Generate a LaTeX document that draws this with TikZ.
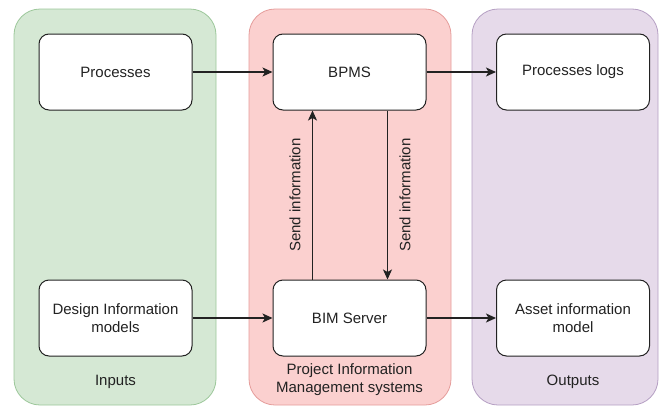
\documentclass[tikz,border=0pt]{standalone}
\usepackage{fontspec}
\setmainfont{Liberation Sans}
\usetikzlibrary{arrows.meta}

\definecolor{inFill}{HTML}{D5E8D4}
\definecolor{inLine}{HTML}{9CC79A}
\definecolor{pimFill}{HTML}{FBD0CF}
\definecolor{pimLine}{HTML}{E59C9A}
\definecolor{outFill}{HTML}{E6DAEA}
\definecolor{outLine}{HTML}{B59FC3}
\definecolor{ink}{HTML}{222222}

\tikzset{
  x=1pt, y=-1pt,
  lane/.style={rounded corners=26pt, line width=0.8pt},
  proc/.style={draw=ink, fill=white, rounded corners=10pt, line width=1pt,
    minimum width=153pt, minimum height=76pt, align=center, inner sep=0pt,
    font=\fontsize{15}{18}\selectfont, text=ink},
  lanetitle/.style={align=center, font=\fontsize{15}{18}\selectfont, text=ink},
  flow/.style={draw=ink, line width=1.1pt, -{Stealth[length=10pt,width=9pt,inset=2.5pt]}},
  vlabel/.style={rotate=90, font=\fontsize{15}{18}\selectfont, text=ink}
}

\begin{document}
\begin{tikzpicture}
\useasboundingbox (0,0) rectangle (664,407);

% swimlanes
\draw[lane, fill=inFill, draw=inLine] (14,9) rectangle (216,405);
\draw[lane, fill=pimFill, draw=pimLine] (249,9) rectangle (451,405);
\draw[lane, fill=outFill, draw=outLine] (472,9) rectangle (658,405);

% lane captions
\node[lanetitle] (inputs) at (115.5,382) {Inputs};
\node[lanetitle] (pims) at (349.5,380) {Project Information\\Management systems};
\node[lanetitle] (outputs) at (573,382) {Outputs};

% process boxes
\node[proc] (processes) at (115.5,72) {Processes};
\node[proc] (bpms) at (349.5,72) {BPMS};
\node[proc] (logs) at (573,72) {Processes logs};
\node[proc] (design) at (115.5,318) {Design Information\\models};
\node[proc] (bim) at (349.5,318) {BIM Server};
\node[proc] (asset) at (573,318) {Asset information\\model};

% horizontal flows
\draw[flow] (processes) -- (bpms);
\draw[flow] (bpms) -- (logs);
\draw[flow] (design) -- (bim);
\draw[flow] (bim) -- (asset);

% information exchange between BIM server and BPMS
\coordinate (upS) at ([xshift=-37pt]bim.north);
\coordinate (upE) at ([xshift=-37pt]bpms.south);
\coordinate (dnS) at ([xshift=38pt]bpms.south);
\coordinate (dnE) at ([xshift=38pt]bim.north);
\draw[flow] (upS) -- (upE);
\draw[flow] (dnS) -- (dnE);
\node[vlabel] (sendUp) at (295,195) {Send information};
\node[vlabel] (sendDn) at (405,195) {Send information};
\end{tikzpicture}
\end{document}
